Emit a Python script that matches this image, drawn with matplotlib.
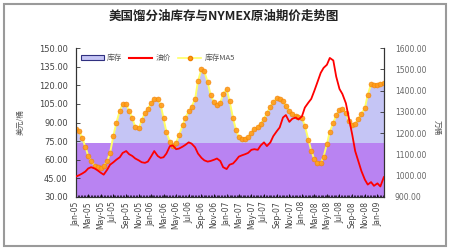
import matplotlib
matplotlib.use("Agg")
import matplotlib.pyplot as plt
import matplotlib.dates as mdates
from matplotlib.patches import Rectangle, Patch
from matplotlib.lines import Line2D
import pandas as pd

plt.rcParams['font.family'] = ['Noto Sans CJK SC', 'DejaVu Sans']

title = "美国馏分油库存与NYMEX原油期价走势图"
left_label = "美元/桶"
right_label = "万桶"
legend_labels = ["库存", "油价", "库存MA5"]

# semi-monthly sample dates, Jan 2005 - Feb 2009
dates = pd.date_range("2005-01-01", periods=99, freq="SMS")

# distillate inventory (right axis)
inventory = [1221, 1209, 1174, 1133, 1092, 1069, 1046, 1040, 1034, 1046,
             1069, 1110, 1192, 1250, 1308, 1338, 1335, 1303, 1268, 1227,
             1221, 1262, 1297, 1314, 1343, 1361, 1361, 1332, 1268, 1203,
             1157, 1139, 1157, 1192, 1238, 1273, 1303, 1326, 1361, 1448,
             1501, 1489, 1437, 1378, 1343, 1332, 1343, 1387, 1408, 1349,
             1268, 1215, 1180, 1171, 1174, 1183, 1203, 1221, 1227, 1244,
             1268, 1294, 1326, 1347, 1364, 1361, 1349, 1326, 1305, 1288,
             1282, 1276, 1270, 1233, 1168, 1116, 1075, 1058, 1060, 1092,
             1151, 1209, 1250, 1285, 1311, 1314, 1294, 1256, 1235, 1244,
             1268, 1291, 1320, 1384, 1431, 1428, 1428, 1434, 1437]

# 5-period moving average of inventory
inventory_ma5 = [1221, 1210, 1176, 1135, 1094, 1070, 1047, 1040, 1035, 1046,
                 1068, 1108, 1188, 1247, 1305, 1336, 1335, 1304, 1270, 1229,
                 1222, 1260, 1295, 1313, 1342, 1360, 1361, 1333, 1270, 1205,
                 1159, 1140, 1156, 1190, 1236, 1272, 1302, 1325, 1360, 1445,
                 1500, 1490, 1439, 1380, 1344, 1332, 1342, 1385, 1407, 1351,
                 1270, 1217, 1181, 1171, 1174, 1182, 1202, 1220, 1227, 1243,
                 1267, 1293, 1325, 1346, 1363, 1361, 1350, 1327, 1306, 1289,
                 1282, 1277, 1271, 1235, 1170, 1118, 1077, 1059, 1060, 1090,
                 1149, 1207, 1249, 1284, 1310, 1314, 1295, 1258, 1236, 1243,
                 1267, 1290, 1318, 1381, 1429, 1428, 1428, 1433, 1436]

# NYMEX crude price (left axis)
price = [46.5, 47.5, 49, 50.5, 53, 54, 53, 51.5, 49.5, 48,
         52, 56, 58, 60, 62, 65.5, 67, 64.5, 63, 61,
         59.5, 58, 57.5, 58.5, 63, 67, 63, 61.5, 62, 65,
         71, 71.5, 68.5, 69, 70.5, 72, 74, 73, 70, 65,
         61.5, 59.5, 58.5, 59, 60, 61, 59, 54, 52.5, 56,
         57, 59.5, 62.5, 63.5, 64.5, 65.5, 68, 68.5, 68, 71.5,
         74, 71, 74, 79, 83, 86, 94, 96, 90.5, 93,
         94, 92.5, 95, 102, 106, 109, 115.5, 122, 130, 134,
         136.5, 142, 140, 127, 117, 113, 105.5, 94, 80, 67,
         58.5, 51, 44, 40, 42, 39, 41, 38.5, 46]

band_top = 1152  # purple band level on the inventory axis

left_ticks = [30, 45, 60, 75, 90, 105, 120, 135, 150]
right_ticks = [900, 1000, 1100, 1200, 1300, 1400, 1500, 1600]
xtick_dates = pd.date_range("2005-01-01", "2009-01-01", freq="2MS")

fig = plt.figure(figsize=(4.5, 2.5), dpi=100)
fig.patch.set_facecolor("white")
fig.add_artist(Rectangle((0.009, 0.016), 0.982, 0.968, transform=fig.transFigure,
                         fill=False, edgecolor="#9a9a9a", linewidth=1.5))

ax = fig.add_axes([0.169, 0.212, 0.684, 0.596])
ax2 = ax.twinx()
ax.set_zorder(ax2.get_zorder() + 1)
ax.patch.set_visible(False)
ax2.set_facecolor("white")

area_color = "#c5c5f5"
band_color = "#b983f2"
ax2.fill_between(dates, 900, inventory, color=area_color, linewidth=0, zorder=1)
ax2.axhspan(900, band_top, color=band_color, linewidth=0, zorder=2)
ax2.plot(dates, inventory_ma5, color="#ffff66", linewidth=1.4, zorder=3)
ax2.plot(dates, inventory_ma5, linestyle="none", marker="o", markersize=3.6,
         markerfacecolor="#ff9a1a", markeredgecolor="#f08000", markeredgewidth=0.4,
         alpha=0.9, zorder=4)
ax.plot(dates, price, color="#ff0000", linewidth=1.3, zorder=5)

ax.set_ylim(30, 150)
ax2.set_ylim(900, 1600)
ax.set_xlim(dates[0], dates[-1])

ax.set_yticks(left_ticks)
ax.set_yticklabels([f"{v:.2f}" for v in left_ticks], fontsize=6,
                   family="DejaVu Sans", color="#444444")
ax2.set_yticks(right_ticks)
ax2.set_yticklabels([f"{v:.2f}" for v in right_ticks], fontsize=5.5,
                    family="DejaVu Sans", color="#666666")
ax.set_xticks(xtick_dates)
ax.set_xticklabels([d.strftime("%b-%y") for d in xtick_dates], rotation=90,
                   fontsize=5.5, family="DejaVu Sans", color="#444444")
ax.xaxis.set_minor_locator(mdates.WeekdayLocator(byweekday=0))

ax.tick_params(axis="y", direction="in", length=3, width=0.6, pad=6, colors="#333333",
               labelcolor="#444444")
ax2.tick_params(axis="y", direction="in", length=3, width=0.6, pad=8, colors="#333333",
                labelcolor="#666666")
ax.tick_params(axis="x", which="major", direction="in", length=2, width=0.6, pad=3)
ax.tick_params(axis="x", which="minor", direction="in", length=1.5, width=0.5)

for a in (ax, ax2):
    a.spines["top"].set_visible(False)
    for s in ("left", "right", "bottom"):
        a.spines[s].set_color("#333333")
        a.spines[s].set_linewidth(0.8)

fig.text(0.497, 0.935, title, ha="center", va="center", fontsize=9,
         fontweight="bold", color="#222222")
fig.text(0.045, 0.51, left_label, ha="center", va="center", rotation=90,
         fontsize=5.5, color="#555555")
fig.text(0.97, 0.49, right_label, ha="center", va="center", rotation=-90,
         fontsize=5.5, color="#555555")

handles = [Patch(facecolor=area_color, edgecolor="#303080", linewidth=0.8),
           Line2D([], [], color="#ff0000", linewidth=1.5),
           Line2D([], [], color="#ffff66", linewidth=1.2, marker="o", markersize=3,
                  markerfacecolor="#ff9a1a", markeredgecolor="#f08000")]
leg = ax.legend(handles, legend_labels, loc="upper left", ncol=3, frameon=False,
                fontsize=5.5, bbox_to_anchor=(0.0, 0.99), handlelength=3.0,
                handleheight=0.6, columnspacing=1.0, handletextpad=0.4,
                borderaxespad=0.2)
for t in leg.get_texts():
    t.set_color("#555555")

fig.savefig("out.png", dpi=100, facecolor="white")
